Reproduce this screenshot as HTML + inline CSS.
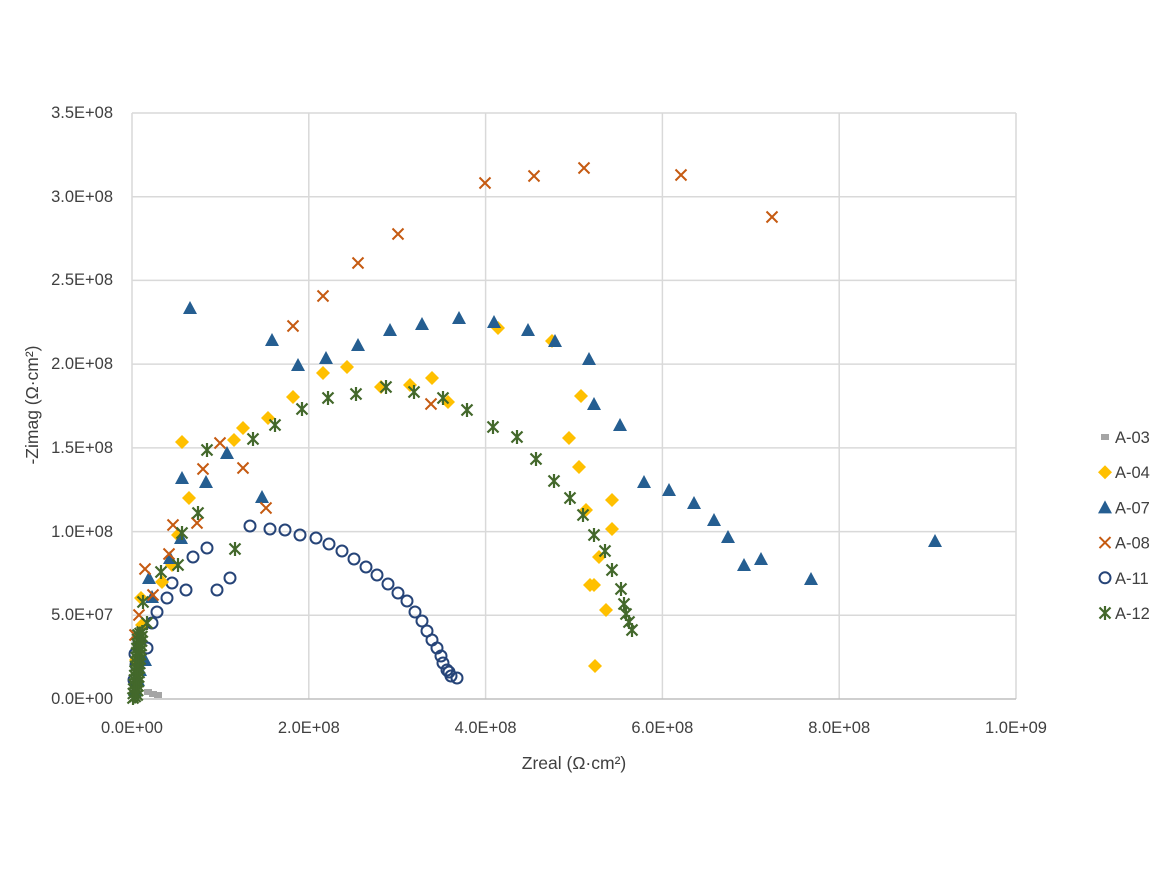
<!DOCTYPE html>
<html><head><meta charset="utf-8"><style>
body{margin:0;background:#fff;}
svg{display:block;font-family:"Liberation Sans",sans-serif;}
</style></head><body>
<svg id="s" width="1170" height="878" xmlns="http://www.w3.org/2000/svg">
<g stroke="#d9d9d9" stroke-width="1.5" fill="none">
<line x1="132" y1="113" x2="1016" y2="113"/>
<line x1="132" y1="196.7" x2="1016" y2="196.7"/>
<line x1="132" y1="280.4" x2="1016" y2="280.4"/>
<line x1="132" y1="364.1" x2="1016" y2="364.1"/>
<line x1="132" y1="447.9" x2="1016" y2="447.9"/>
<line x1="132" y1="531.6" x2="1016" y2="531.6"/>
<line x1="132" y1="615.3" x2="1016" y2="615.3"/>
<line x1="132" y1="113" x2="132" y2="699"/>
<line x1="308.8" y1="113" x2="308.8" y2="699"/>
<line x1="485.6" y1="113" x2="485.6" y2="699"/>
<line x1="662.4" y1="113" x2="662.4" y2="699"/>
<line x1="839.2" y1="113" x2="839.2" y2="699"/>
<line x1="1016" y1="113" x2="1016" y2="699"/>
</g>
<line x1="132" y1="699" x2="1016" y2="699" stroke="#bfbfbf" stroke-width="1.5"/>
<g font-size="16.5" fill="#404040" text-anchor="end">
<text x="113" y="118">3.5E+08</text>
<text x="113" y="202">3.0E+08</text>
<text x="113" y="285">2.5E+08</text>
<text x="113" y="369">2.0E+08</text>
<text x="113" y="453">1.5E+08</text>
<text x="113" y="537">1.0E+08</text>
<text x="113" y="620">5.0E+07</text>
<text x="113" y="704">0.0E+00</text>
</g>
<g font-size="16.5" fill="#404040" text-anchor="middle">
<text x="132" y="733">0.0E+00</text>
<text x="308.8" y="733">2.0E+08</text>
<text x="485.6" y="733">4.0E+08</text>
<text x="662.4" y="733">6.0E+08</text>
<text x="839.2" y="733">8.0E+08</text>
<text x="1016" y="733">1.0E+09</text>
<text x="574" y="769" font-size="17.5">Zreal (Ω·cm²)</text>
<text transform="translate(38,405) rotate(-90)" font-size="17.5">-Zimag (Ω·cm²)</text>
</g>
<g id="pts"></g>
<g id="leg" font-size="16.5" fill="#404040"></g>
</svg>
<script>
var g=document.getElementById('pts'),L=document.getElementById('leg'),NS="http://www.w3.org/2000/svg";
function el(p,t,a){var e=document.createElementNS(NS,t);for(var k in a)e.setAttribute(k,a[k]);p.appendChild(e);return e;}
function mk(p,type,x,y){
 if(type=='d')el(p,'polygon',{points:(x)+','+(y-7)+' '+(x+7)+','+y+' '+x+','+(y+7)+' '+(x-7)+','+y,fill:'#ffc000'});
 else if(type=='t')el(p,'polygon',{points:x+','+(y-7)+' '+(x+7)+','+(y+6)+' '+(x-7)+','+(y+6),fill:'#255e91'});
 else if(type=='x')el(p,'path',{d:'M'+(x-5.5)+' '+(y-5.5)+'L'+(x+5.5)+' '+(y+5.5)+'M'+(x+5.5)+' '+(y-5.5)+'L'+(x-5.5)+' '+(y+5.5),stroke:'#c55a11','stroke-width':2,fill:'none'});
 else if(type=='o')el(p,'circle',{cx:x,cy:y,r:5.5,stroke:'#264478','stroke-width':2,fill:'none'});
 else if(type=='a')el(p,'path',{d:'M'+(x-5.5)+' '+(y-5.5)+'L'+(x+5.5)+' '+(y+5.5)+'M'+(x+5.5)+' '+(y-5.5)+'L'+(x-5.5)+' '+(y+5.5)+'M'+x+' '+(y-7)+'L'+x+' '+(y+7),stroke:'#43682b','stroke-width':2.2,fill:'none'});
 else if(type=='g')el(p,'rect',{x:x-4,y:y-3,width:8,height:6,fill:'#a5a5a5'});
}
var D={
o:[[250,526],[270,529],[285,530],[300,535],[316,538],[329,544],[342,551],[354,559],[366,567],[377,575],[388,584],[398,593],[407,601],[415,612],[422,621],[427,631],[432,640],[437,648],[441,656],[443,663],[447,670],[451,676],[457,678],[449,672],[207,548],[193,557],[172,583],[186,590],[217,590],[230,578],[167,598],[157,612],[152,623],[147,648],[135,654],[139,640],[136,665],[134,680]],
d:[[182,442],[498,328],[552,341],[581,396],[381,387],[432,378],[410,385],[448,402],[347,367],[323,373],[293,397],[268,418],[243,428],[234,440],[189,498],[178,535],[569,438],[579,467],[586,510],[612,500],[612,529],[599,557],[590,585],[594,585],[606,610],[595,666],[172,565],[162,582],[141,598],[142,625],[136,660]],
t:[[190,308],[272,340],[326,358],[358,345],[390,330],[422,324],[459,318],[494,322],[528,330],[555,341],[589,359],[594,404],[620,425],[644,482],[669,490],[694,503],[714,520],[728,537],[744,565],[761,559],[811,579],[935,541],[298,365],[262,497],[227,453],[206,482],[182,478],[181,538],[170,558],[149,578],[152,597],[145,660],[140,670],[138,680],[135,690]],
x:[[485,183],[534,176],[584,168],[681,175],[772,217],[398,234],[358,263],[323,296],[293,326],[220,443],[203,469],[243,468],[266,508],[197,523],[173,525],[431,404],[169,554],[145,569],[153,595],[139,615],[135,635]],
a:[[386,387],[414,392],[356,394],[328,398],[302,409],[275,425],[253,439],[207,450],[198,513],[235,549],[443,398],[467,410],[493,427],[517,437],[536,459],[554,481],[570,498],[583,515],[594,535],[605,551],[612,570],[621,589],[624,604],[626,614],[629,622],[632,630],[182,533],[178,565],[161,572],[143,602],[147,623]],
g:[[148,692],[153,694],[158,695]]
};
['g','o','d','t','x','a'].forEach(function(k){D[k].forEach(function(p){mk(g,k,p[0],p[1]);});});
// dense cluster near origin
for(var i=0;i<45;i++){var y=698-i*1.5,x=133+i*0.12+(i%3)*2;mk(g,'a',x,y);}
var lg=[['g','A-03'],['d','A-04'],['t','A-07'],['x','A-08'],['o','A-11'],['a','A-12']];
lg.forEach(function(l,i){var y=437+i*35.2;mk(L,l[0],1105,y);var t=el(L,'text',{x:1115,y:y+6});t.textContent=l[1];});
</script>
</body></html>
